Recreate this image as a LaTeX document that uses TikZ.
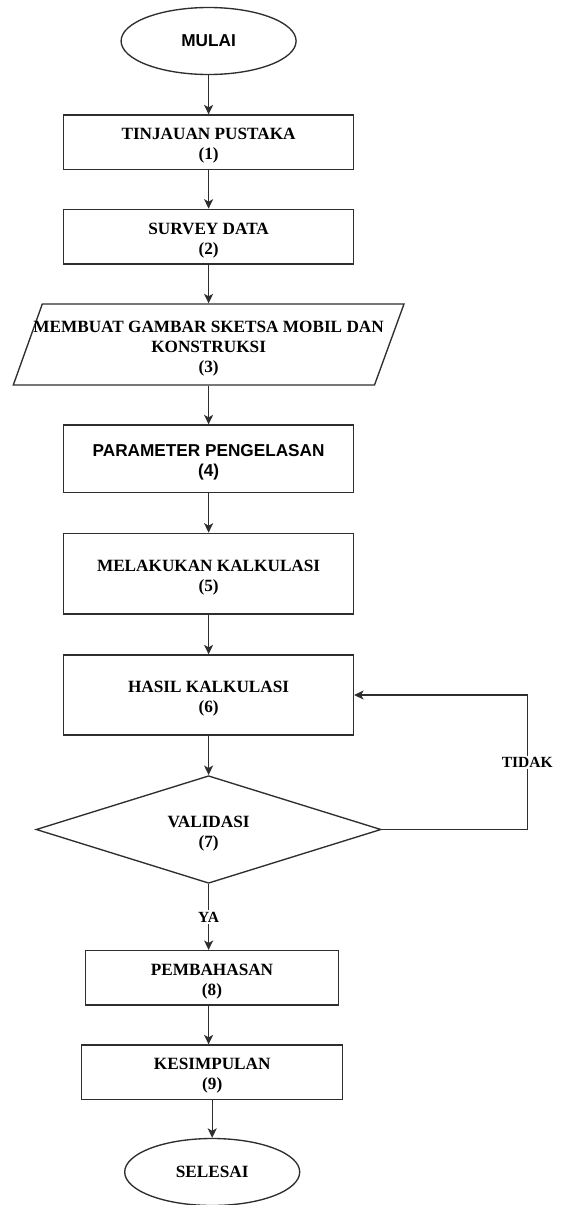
\documentclass[tikz,border=0pt]{standalone}
\usepackage{fontspec}
\setmainfont{Liberation Serif}
\setsansfont{Liberation Sans}
\usetikzlibrary{shapes.geometric,arrows.meta}
\definecolor{linecol}{HTML}{2E2E2E}
\newcommand\myup{\rule{0pt}{19pt}}
\begin{document}
\begin{tikzpicture}[x=1pt,y=-1pt,
  line width=1.35pt,
  every node/.style={font=\fontsize{17.2}{20}\selectfont\bfseries, align=center, text=black},
  sansbold/.style={font=\fontsize{17.2}{20}\selectfont\sffamily\bfseries},
  procbox/.style={draw=linecol, rectangle, inner sep=0pt, minimum width=289.6pt},
  term/.style={draw=linecol, ellipse, inner sep=0pt, minimum width=175pt, minimum height=67pt},
  decision/.style={draw=linecol, diamond, inner sep=-15pt, minimum width=345pt, minimum height=107.6pt},
  flow/.style={draw=linecol, -{Stealth[length=9.5pt,width=9pt,inset=2.5pt]}},
  lbl/.style={fill=white, inner sep=1.5pt, font=\fontsize{15.5}{18}\selectfont\bfseries}
]
\useasboundingbox (0,0) rectangle (562,1205);

\node[term, sansbold] (start) at (208.6,41) {MULAI};
\node[procbox, minimum height=54.3pt] (b1) at (208.6,142.2) {\myup TINJAUAN PUSTAKA\\(1)};
\node[procbox, minimum height=54.7pt] (b2) at (208.6,236.7) {\myup SURVEY DATA\\(2)};
\draw[draw=linecol] (42.3,304) -- (404,304) -- (374.5,385) -- (13.3,385) -- cycle;
\node[inner sep=0pt, minimum width=332.7pt, minimum height=81pt] (b3) at (208.6,344.5) {\myup MEMBUAT GAMBAR SKETSA MOBIL DAN\\KONSTRUKSI\\(3)};
\node[procbox, sansbold, minimum height=67.7pt] (b4) at (208.6,458.9) {\myup PARAMETER PENGELASAN\\(4)};
\node[procbox, minimum height=80.7pt] (b5) at (208.6,573.7) {\myup MELAKUKAN KALKULASI\\(5)};
\node[procbox, minimum height=80pt] (b6) at (208.6,695) {\myup HASIL KALKULASI\\(6)};
\node[decision] (d7) at (208.6,829.5) {\myup VALIDASI\\(7)};
\node[procbox, minimum width=253.4pt, minimum height=54.3pt] (b8) at (212,977.8) {\myup PEMBAHASAN\\(8)};
\node[procbox, minimum width=261pt, minimum height=54.3pt] (b9) at (212.2,1072.2) {\myup KESIMPULAN\\(9)};
\node[term] (end) at (212.2,1172) {SELESAI};

\draw[flow] (start) -- (b1);
\draw[flow] (b1) -- (b2);
\draw[flow] (b2) -- (b3);
\draw[flow] (b3) -- (b4);
\draw[flow] (b4) -- (b5);
\draw[flow] (b5) -- (b6);
\draw[flow] (b6) -- (d7);
\draw[flow] (d7.south) -- node[lbl] {YA} (d7.south |- b8.north);
\draw[flow] (b8.south -| start) -- (b9.north -| start);
\draw[flow] (b9) -- (end);
\draw[flow] (d7.east) -- ++(145.5,0) coordinate (lc) -- node[lbl] {TIDAK} (lc |- b6.east) -- (b6.east);
\end{tikzpicture}
\end{document}
